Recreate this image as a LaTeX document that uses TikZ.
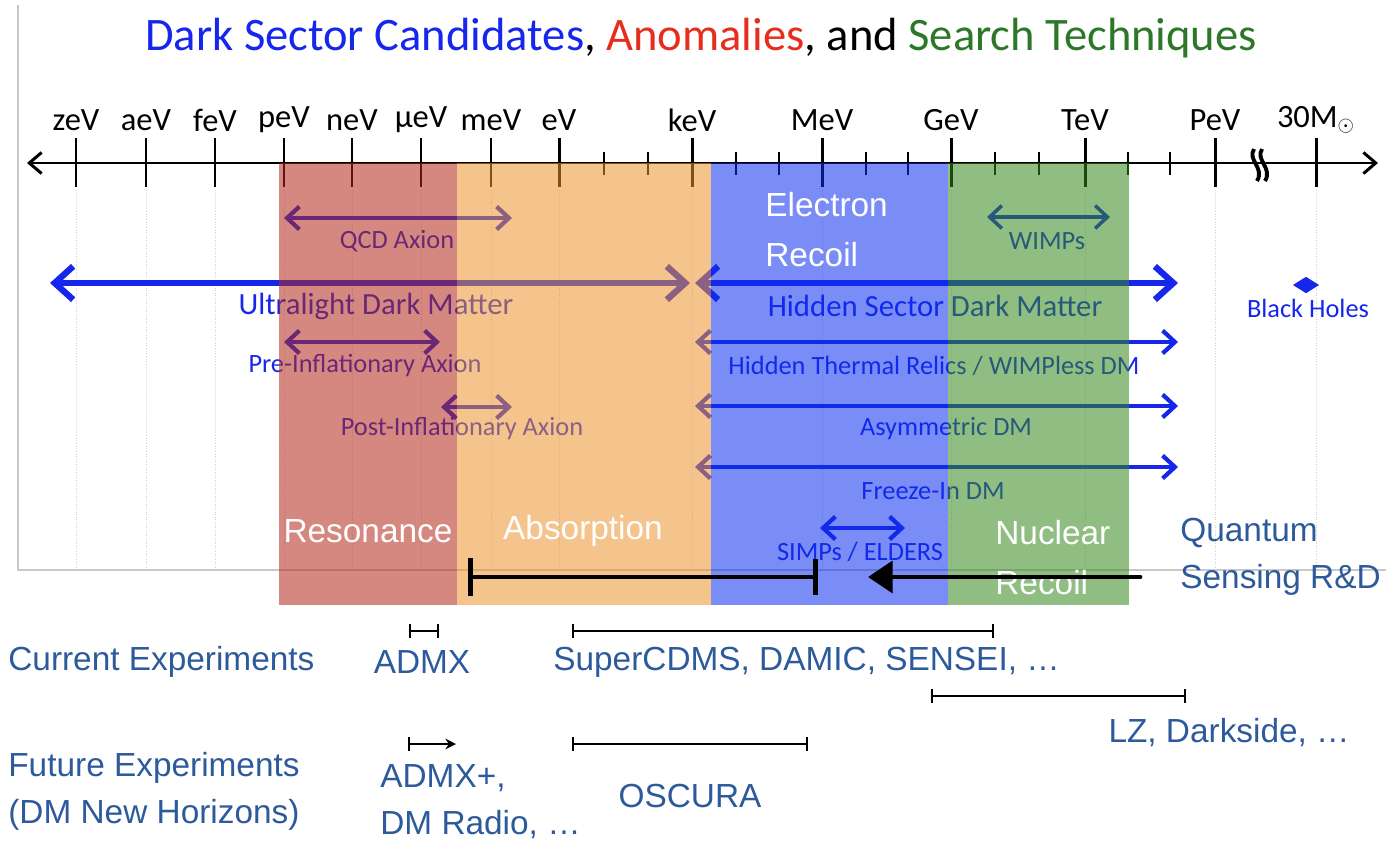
\documentclass[tikz,border=0pt]{standalone}
\usepackage{fontspec}
\setmainfont{Carlito}
\newfontfamily\arialfont{Liberation Sans}
\usetikzlibrary{arrows.meta, positioning, calc, shapes.geometric}
\definecolor{darkBlue}{RGB}{22, 38, 235}
\definecolor{titleRed}{RGB}{230, 45, 30}
\definecolor{titleGreen}{RGB}{45, 120, 40}
\definecolor{expBlue}{RGB}{45, 90, 155}
\definecolor{bandRed}{RGB}{178, 38, 22}
\definecolor{bandOrange}{RGB}{236, 145, 45}
\definecolor{bandBlue}{RGB}{13, 45, 236}
\definecolor{bandGreen}{RGB}{51, 135, 27}
\definecolor{frameGray}{RGB}{200, 200, 200}

\begin{document}
\begin{tikzpicture}[
    x=0.02cm, y=-0.02cm,
    majortick/.style={line width=1.7pt, black},
    minortick/.style={line width=1.5pt, black},
    guide/.style={densely dotted, gray!35, line width=0.5pt},
    axisline/.style={
        line width=1.7pt,
        {Straight Barb[length=7pt, width=12pt]}-{Straight Barb[length=7pt, width=12pt]}
    },
    massrange/.style={
        line width=2.4pt,
        darkBlue,
        {Straight Barb[length=7pt, width=13pt]}-{Straight Barb[length=7pt, width=13pt]}
    },
    widerange/.style={
        line width=3.6pt,
        darkBlue,
        {Straight Barb[length=10.5pt, width=19pt]}-{Straight Barb[length=10.5pt, width=19pt]}
    },
    candidate/.style={font=\fontsize{15}{18}\selectfont, text=darkBlue, inner sep=0pt},
    bigcandidate/.style={font=\fontsize{17.5}{20}\selectfont, text=darkBlue, inner sep=0pt},
    scalelabel/.style={font=\fontsize{18.5}{22}\selectfont, inner sep=0pt},
    band/.style={fill opacity=0.55, draw=none},
    technique/.style={font=\arialfont\fontsize{19}{22}\selectfont, text=white, inner sep=0pt},
    experiment/.style={font=\arialfont\fontsize{19}{22}\selectfont, text=expBlue, inner sep=0pt},
    expspan/.style={line width=1.4pt, black, {Bar[width=8pt]}-{Bar[width=8pt]}},
    sketch/.style={line width=2.8pt, black, line cap=round}
]

\useasboundingbox (0,0) rectangle (1386,842);

% Title
\node (title) at (701,38) {\fontsize{26.5}{32}\selectfont
    \textcolor{darkBlue}{Dark Sector Candidates}, \textcolor{titleRed}{Anomalies}, and \textcolor{titleGreen}{Search Techniques}};

% Panel frame
\draw[frameGray, line width=0.6pt] (18,5) -- (18,570) -- (1386,570);

% Mass scale
\foreach \x in {76,146,215,284,352,421,491,559,692,822,951,1085,1215,1316}
    \draw[guide] (\x,190) -- (\x,570);
\coordinate (axisL) at (27,163);
\coordinate (axisR) at (1378,163);
\draw[axisline] (axisL) -- (axisR);
\foreach \x/\n/\t in {76/ze/zeV, 146/ae/aeV, 215/fe/feV, 284/pe/peV, 352/ne/neV, 421/mu/μeV,
        491/me/meV, 559/ev/eV, 692/ke/keV, 822/Me/MeV, 951/Ge/GeV, 1085/Te/TeV, 1215/Pe/PeV,
        1316/sun/{30M$_\odot$}} {
    \draw[majortick] (\x,138) -- (\x,187);
    \node[scalelabel] (scale-\n) at (\x,120) {\t};
}
\foreach \x in {604,648,736,779,866,908,995,1039,1128,1170}
    \draw[minortick] (\x,152) -- (\x,175);
% Break in the scale
\foreach \dx in {0,8}
    \draw[line width=2.2pt] (1254+\dx,149) .. controls (1247+\dx,160) and (1265+\dx,168) .. (1257+\dx,181);

% Dark sector candidates
\coordinate (qcdL) at (284,218);
\coordinate (qcdR) at (512,218);
\draw[massrange] (qcdL) -- (qcdR);
\node[candidate] (qcd) at (397,241) {QCD Axion};

\coordinate (ultraL) at (50,283);
\coordinate (ultraR) at (690,283);
\draw[widerange] (ultraL) -- (ultraR);
\node[bigcandidate] (ultra) at (376,306) {Ultralight Dark Matter};

\coordinate (hiddenL) at (695,283);
\coordinate (hiddenR) at (1178,283);
\draw[widerange] (hiddenL) -- (hiddenR);
\node[bigcandidate] (hidden) at (935,306) {Hidden Sector Dark Matter};

\node[diamond, fill=darkBlue, minimum width=15pt, minimum height=9.5pt, inner sep=0pt] (bhmark) at (1306,285) {};
\node[candidate] (bh) at (1308,308) {Black Holes};

\coordinate (wimpL) at (987,217);
\coordinate (wimpR) at (1110,217);
\draw[massrange, line width=2pt] (wimpL) -- (wimpR);
\node[candidate] (wimp) at (1047,241) {WIMPs};

\coordinate (preL) at (284,342);
\coordinate (preR) at (440,342);
\draw[massrange] (preL) -- (preR);
\node[candidate] (pre) at (365,366) {Pre-Inflationary Axion};

\coordinate (thermalL) at (695,342);
\coordinate (thermalR) at (1178,342);
\draw[massrange] (thermalL) -- (thermalR);
\node[candidate] (thermal) at (934,366) {Hidden Thermal Relics / WIMPless DM};

\coordinate (postL) at (441,407);
\coordinate (postR) at (512,407);
\draw[massrange] (postL) -- (postR);
\node[candidate] (post) at (462,429) {Post-Inflationary Axion};

\coordinate (asymL) at (695,406);
\coordinate (asymR) at (1178,406);
\draw[massrange] (asymL) -- (asymR);
\node[candidate] (asym) at (946,429) {Asymmetric DM};

\coordinate (freezeL) at (695,467);
\coordinate (freezeR) at (1178,467);
\draw[massrange] (freezeL) -- (freezeR);
\node[candidate] (freeze) at (933,491) {Freeze-In DM};

\coordinate (simpL) at (820,528);
\coordinate (simpR) at (905,528);
\draw[massrange] (simpL) -- (simpR);
\node[candidate] (simp) at (860,552) {SIMPs / ELDERS};

% Search technique bands
\fill[band, bandRed] (279,163) rectangle (457,605);
\fill[band, bandOrange] (457,163) rectangle (711,605);
\fill[band, bandBlue] (711,163) rectangle (948,605);
\fill[band, bandGreen] (948,163) rectangle (1129,605);

\node[technique] (resonance) at (368,531) {Resonance};
\node[technique] (absorption) at (583,531) {Absorption};
\node[technique, anchor=west] (electron) at (765,205) {Electron};
\node[technique, anchor=west] (erecoil) at (765,255) {Recoil};
\node[technique, anchor=west] (nuclear) at (995,533) {Nuclear};
\node[technique, anchor=west] (nrecoil) at (995,583) {Recoil};

\node[experiment, anchor=west] (quantum) at (1180,533) {Quantum};
\node[experiment, anchor=west] (sensing) at (1180,580) {Sensing R\&D};

% Quantum sensing reach
\coordinate (sketchL) at (468,577);
\coordinate (sketchR) at (818,577);
\draw[sketch, {Bar[width=22pt]}-{Bar[width=20pt]}] (sketchL) -- (sketchR);
\coordinate (qsStart) at (1140,577);
\coordinate (qsEnd) at (868,577);
\draw[sketch, -{Triangle[length=14pt, width=18pt]}] (qsStart) -- (qsEnd);

% Experiments
\node[experiment, anchor=west] (current) at (8,662) {Current Experiments};
\coordinate (admxL) at (409,631);
\coordinate (admxR) at (439,631);
\draw[expspan] (admxL) -- (admxR);
\node[experiment] (admx) at (422,662) {ADMX};

\coordinate (cdmsL) at (572,631);
\coordinate (cdmsR) at (994,631);
\draw[expspan] (cdmsL) -- (cdmsR);
\node[experiment, anchor=west] (cdms) at (553,662) {SuperCDMS, DAMIC, SENSEI, …};

\coordinate (lzL) at (931,696);
\coordinate (lzR) at (1186,696);
\draw[expspan] (lzL) -- (lzR);
\node[experiment, anchor=east] (lz) at (1350,733) {LZ, Darkside, …};

\node[experiment, anchor=west] (future) at (8,768) {Future Experiments};
\node[experiment, anchor=west] (horizons) at (8,815) {(DM New Horizons)};

\coordinate (admxpL) at (408,744);
\coordinate (admxpR) at (456,744);
\draw[line width=1.4pt, {Bar[width=8pt]}-{Stealth[length=6pt, width=6pt]}] (admxpL) -- (admxpR);
\node[experiment, anchor=west] (admxp) at (380,778) {ADMX+,};
\node[experiment, anchor=west] (dmradio) at (380,825) {DM Radio, …};

\coordinate (oscuraL) at (572,744);
\coordinate (oscuraR) at (808,744);
\draw[expspan] (oscuraL) -- (oscuraR);
\node[experiment] (oscura) at (690,796) {OSCURA};

\end{tikzpicture}
\end{document}
